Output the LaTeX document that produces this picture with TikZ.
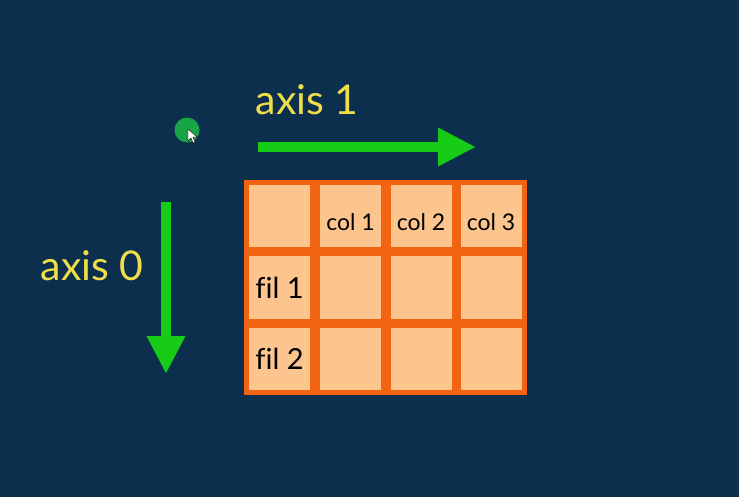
\documentclass[tikz,border=0pt]{standalone}
\usepackage{fontspec}
\setmainfont{Lato}[Ligatures=NoCommon]
\usetikzlibrary{arrows.meta}
\definecolor{bgblue}{RGB}{13,47,78}
\definecolor{peach}{RGB}{252,197,142}
\definecolor{orng}{RGB}{242,100,18}
\definecolor{grn}{RGB}{22,204,22}
\definecolor{ylw}{RGB}{238,222,72}
\definecolor{dotgrn}{RGB}{24,165,70}
\newcommand{\lowlab}[1]{\raisebox{-15pt}[0pt][0pt]{#1}}
\begin{document}
\begin{tikzpicture}[x=1pt,y=-1pt,
  cellbox/.style={draw=orng, fill=peach, line width=5pt, minimum width=66pt, minimum height=67pt, inner sep=0pt, font=\fontsize{23}{23}\selectfont, text=black},
  rowlab/.style={font=\fontsize{29}{29}\selectfont},
  axlabel/.style={text=ylw, font=\fontsize{41}{41}\selectfont},
  bigarrow/.style={draw=grn, line width=10pt, -{Triangle[length=38pt,width=36pt]}}]
\fill[bgblue] (0,0) rectangle (739,497);
\useasboundingbox (0,0) rectangle (739,497);
% grid
\node[cellbox] (c00) at (279.5,216) {};
\node[cellbox] (c01) at (350.5,216) {\lowlab{col 1}};
\node[cellbox] (c02) at (421,216) {\lowlab{col 2}};
\node[cellbox] (c03) at (491,216) {\lowlab{col 3}};
\node[cellbox, rowlab] (c10) at (279.5,287.5) {fil 1};
\node[cellbox] (c11) at (350.5,287.5) {};
\node[cellbox] (c12) at (421,287.5) {};
\node[cellbox] (c13) at (491,287.5) {};
\node[cellbox, rowlab] (c20) at (279.5,359) {fil 2};
\node[cellbox] (c21) at (350.5,359) {};
\node[cellbox] (c22) at (421,359) {};
\node[cellbox] (c23) at (491,359) {};
% labels
\node[axlabel] (ax1) at (307,100) {axis 1};
\node[axlabel] (ax0) at (92,266) {axis 0};
% arrows
\coordinate (h0) at (258,147);
\coordinate (h1) at (476,147);
\coordinate (v0) at (166,202);
\coordinate (v1) at (166,374);
\draw[bigarrow] (h0) -- (h1);
\draw[bigarrow] (v0) -- (v1);
% dot and cursor
\node[circle, fill=dotgrn, minimum size=25pt, inner sep=0pt] (dot) at (187,130) {};
\fill[white, draw=black, line width=0.4pt] (188,129) -- (188,141) -- (191,138) -- (193,143) -- (195,142) -- (193,137) -- (197,137) -- cycle;
\end{tikzpicture}
\end{document}
